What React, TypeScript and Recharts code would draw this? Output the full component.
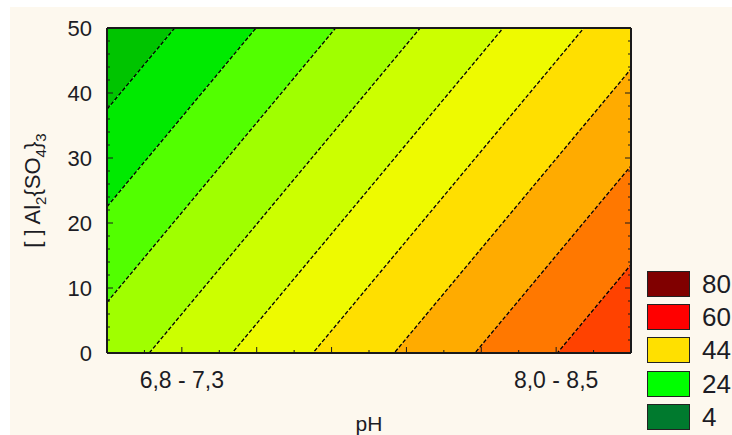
import { ComposedChart, Area, Line, XAxis, YAxis } from "recharts";

// contour levels and where each contour line meets the two ends of the pH range
const contourLevels = [20, 24, 28, 32, 36, 40, 44, 48, 52];
const alAtPhLow = [37.5, 22.5, 7.8, -7.8, -23.1, -38.0, -53.0, -67.9, -83.1];
const alAtPhHigh = [134.2, 119.2, 104.5, 88.9, 73.6, 58.7, 43.7, 28.8, 13.6];
const phEnds = [0, 14];

// fill between neighbouring contours, from lowest response to highest
const bandColors = [
  "#00c400",
  "#00ea00",
  "#52ff00",
  "#a0ff00",
  "#ccff00",
  "#eefa00",
  "#ffdf00",
  "#ffab00",
  "#ff7800",
  "#ff4200",
];

const legendValues = [80, 60, 44, 24, 4];
const legendColors = ["#800000", "#ff0000", "#ffe000", "#00ff00", "#007a2e"];

const phTicks = [0, 1, 2, 3, 4, 5, 6, 7, 8, 9, 10, 11, 12, 13, 14];
const phTickLabels: Record<number, string> = { 2: "6,8 - 7,3", 12: "8,0 - 8,5" };
const alTicks = [0, 2, 4, 6, 8, 10, 12, 14, 16, 18, 20, 22, 24, 26, 28, 30, 32, 34, 36, 38, 40, 42, 44, 46, 48, 50];

const FONT = '"Liberation Sans", Arial, sans-serif';
const INK = "#1c1c24";
const FRAME = "#1a1a1a";
const OUTSIDE = 400;

const rows = phEnds.map((ph, i) => {
  const row: Record<string, number> = { ph };
  contourLevels.forEach((lv, k) => {
    row[`c${lv}`] = i === 0 ? alAtPhLow[k] : alAtPhHigh[k];
  });
  return row;
});

// band b sits between contour b-1 (above) and contour b (below)
const bandRange = (b: number) => (r: Record<string, number>) => [
  b === contourLevels.length ? -OUTSIDE : r[`c${contourLevels[b]}`],
  b === 0 ? OUTSIDE : r[`c${contourLevels[b - 1]}`],
];

function LeftTick({ x, y, payload }: any) {
  const major = payload.value % 10 === 0;
  return (
    <g>
      <line x1={x} x2={x + (major ? 6 : 3)} y1={y} y2={y} stroke={FRAME} />
      {major && (
        <text x={x - 15} y={y} dy="0.36em" textAnchor="end" fontSize={22} fontFamily={FONT} fill={INK}>
          {payload.value}
        </text>
      )}
    </g>
  );
}

function RightTick({ x, y, payload }: any) {
  const major = payload.value % 10 === 0;
  return <line x1={x} x2={x - (major ? 6 : 3)} y1={y} y2={y} stroke={FRAME} />;
}

function BottomTick({ x, y, payload }: any) {
  const major = payload.value % 2 === 0;
  const label = phTickLabels[payload.value];
  return (
    <g>
      <line x1={x} x2={x} y1={y} y2={y - (major ? 6 : 3)} stroke={FRAME} />
      {label && (
        <text x={x} y={y + 27} dy="0.36em" textAnchor="middle" fontSize={23} fontFamily={FONT} fill={INK}>
          {label}
        </text>
      )}
    </g>
  );
}

function TopTick({ x, y, payload }: any) {
  const major = payload.value % 2 === 0;
  return <line x1={x} x2={x} y1={y} y2={y + (major ? 6 : 3)} stroke={FRAME} />;
}

function AlTitle({ viewBox }: any) {
  const cx = viewBox.x + 40;
  const cy = viewBox.y + viewBox.height / 2;
  return (
    <text
      x={cx}
      y={cy}
      transform={`rotate(-90 ${cx} ${cy})`}
      textAnchor="middle"
      fontSize={22}
      fontFamily={FONT}
      fill={INK}
    >
      <tspan>[ ] Al</tspan>
      <tspan fontSize={15} dy={6}>2</tspan>
      <tspan dy={-6}>{"{SO"}</tspan>
      <tspan fontSize={15} dy={6}>4</tspan>
      <tspan dy={-6}>{"}"}</tspan>
      <tspan fontSize={15} dy={6}>3</tspan>
    </text>
  );
}

function ColorKey() {
  return (
    <div style={{ position: "absolute", left: 647, top: 267 }}>
      {legendValues.map((v, i) => (
        <div key={v} style={{ display: "flex", alignItems: "center", height: 33.3 }}>
          <div
            style={{
              width: 43,
              height: 26,
              boxSizing: "border-box",
              border: "1.5px solid #222",
              background: legendColors[i],
            }}
          />
          <span style={{ marginLeft: 12, fontSize: 26, fontFamily: FONT, color: INK, lineHeight: 1 }}>{v}</span>
        </div>
      ))}
    </div>
  );
}

export default function App() {
  return (
    <div style={{ position: "absolute", left: 0, top: 0, width: 732, height: 435, background: "#fff" }}>
      <div style={{ position: "absolute", left: 10, top: 7, right: 0, bottom: 0, background: "#fdf8ee" }} />
      <div style={{ position: "absolute", left: 0, top: 0 }}>
        <ComposedChart width={732} height={435} data={rows} margin={{ top: 0, right: 0, bottom: 0, left: 0 }}>
          {bandColors.map((c, b) => (
            <Area
              key={c}
              type="linear"
              dataKey={bandRange(b)}
              stroke="none"
              fill={c}
              fillOpacity={1}
              dot={false}
              activeDot={false}
              isAnimationActive={false}
            />
          ))}
          {contourLevels.map((lv) => (
            <Line
              key={lv}
              type="linear"
              dataKey={`c${lv}`}
              stroke="#000"
              strokeWidth={1.3}
              strokeDasharray="4 2"
              dot={false}
              activeDot={false}
              isAnimationActive={false}
            />
          ))}
          <XAxis
            dataKey="ph"
            type="number"
            domain={[0, 14]}
            allowDataOverflow
            ticks={phTicks}
            interval={0}
            height={82}
            tickSize={0}
            tickMargin={0}
            tickLine={false}
            tick={<BottomTick />}
            axisLine={{ stroke: FRAME, strokeWidth: 2 }}
            label={{ value: "pH", position: "insideBottom", offset: 4, fontSize: 21, fontFamily: FONT, fill: INK }}
          />
          <XAxis
            xAxisId="top"
            orientation="top"
            type="number"
            domain={[0, 14]}
            allowDataOverflow
            ticks={phTicks}
            interval={0}
            height={28}
            tickSize={0}
            tickMargin={0}
            tickLine={false}
            tick={<TopTick />}
            axisLine={{ stroke: FRAME, strokeWidth: 2 }}
          />
          <YAxis
            type="number"
            domain={[0, 50]}
            allowDataOverflow
            ticks={alTicks}
            interval={0}
            width={107}
            tickSize={0}
            tickMargin={0}
            tickLine={false}
            tick={<LeftTick />}
            axisLine={{ stroke: FRAME, strokeWidth: 2 }}
            label={{ content: (p: any) => <AlTitle {...p} /> }}
          />
          <YAxis
            yAxisId="right"
            orientation="right"
            type="number"
            domain={[0, 50]}
            allowDataOverflow
            ticks={alTicks}
            interval={0}
            width={101}
            tickSize={0}
            tickMargin={0}
            tickLine={false}
            tick={<RightTick />}
            axisLine={{ stroke: FRAME, strokeWidth: 2 }}
          />
        </ComposedChart>
      </div>
      <ColorKey />
    </div>
  );
}
